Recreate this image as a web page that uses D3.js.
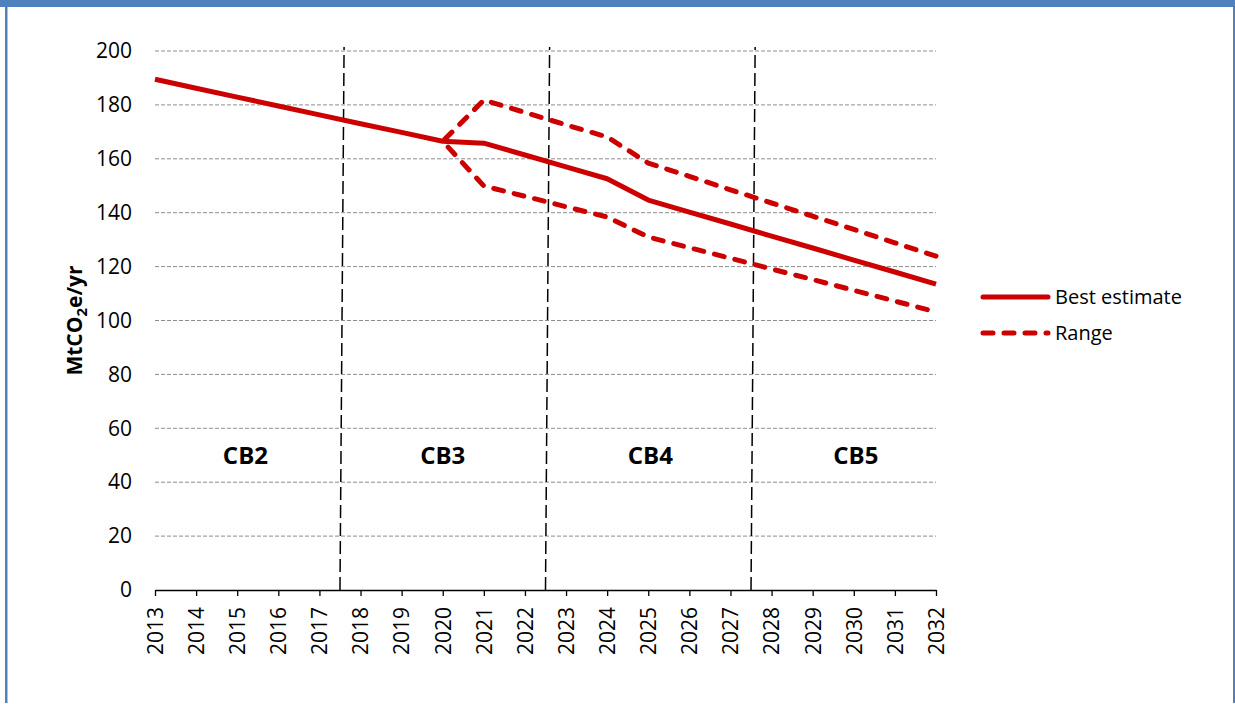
<!DOCTYPE html>
<html>
<head>
<meta charset="utf-8">
<script src="https://cdn.jsdelivr.net/npm/d3@7"></script>
<style>
  body { margin: 0; background: #fff; }
  svg { display: block; font-family: "Open Sans", sans-serif; }
</style>
</head>
<body>
<script>
// data
var years = d3.range(2013, 2033);
var bestYears = years;
var bestValues = [189.5, 186.2, 182.9, 179.6, 176.3, 173.0, 169.8, 166.5, 165.8, 161.4,
                  157.0, 152.6, 144.7, 140.2, 135.8, 131.3, 126.9, 122.4, 118.0, 113.5];
var rangeYears = d3.range(2020, 2033);
var upperValues = [166.5, 181.8, 177.2, 172.6, 168.1, 158.4, 153.5, 148.5, 143.6, 138.7, 133.8, 128.8, 123.9];
var lowerValues = [166.5, 149.9, 146.1, 142.2, 138.4, 131.0, 127.0, 123.1, 119.1, 115.2, 111.2, 107.2, 103.2];
var yTicks = [0, 20, 40, 60, 80, 100, 120, 140, 160, 180, 200];
var budgetBreaks = [2017.5, 2022.5, 2027.5];
var budgetLabels = ["CB2", "CB3", "CB4", "CB5"];
var budgetCentres = [2015.2, 2020.0, 2025.05, 2030.05];

var width = 1235, height = 704;
var red = "#cc0000";
var font = "'Open Sans', sans-serif";

var svg = d3.select("body").append("svg")
    .attr("width", width)
    .attr("height", height);

// frame
svg.append("rect").attr("x", 0).attr("y", 0).attr("width", width).attr("height", 7).attr("fill", "#4f81bd");
svg.append("rect").attr("x", 5).attr("y", 0).attr("width", 2.5).attr("height", 703).attr("fill", "#4f81bd");
svg.append("rect").attr("x", 1233).attr("y", 0).attr("width", 2).attr("height", 703).attr("fill", "#4f81bd");

var x = d3.scaleLinear().domain([2013, 2032]).range([155, 936]);
var y = d3.scaleLinear().domain([0, 200]).range([590, 51]);

// gridlines
svg.append("g").selectAll("line")
    .data(yTicks.filter(function(d){ return d > 0; }))
    .enter().append("line")
    .attr("x1", x(2013)).attr("x2", x(2032))
    .attr("y1", function(d){ return y(d); })
    .attr("y2", function(d){ return y(d); })
    .style("stroke", "#8c8c8c")
    .style("stroke-width", 1)
    .style("stroke-dasharray", "4,2");

// y axis labels (no axis line)
var yAxis = svg.append("g")
    .attr("transform", "translate(" + x(2013) + ",0)")
    .call(d3.axisLeft(y).tickValues(yTicks).tickSize(0).tickPadding(23));
yAxis.select(".domain").remove();
yAxis.selectAll("text").style("font-size", "21px").style("fill", "#000")
    .style("font-family", font);

// x axis
var xAxis = svg.append("g")
    .attr("transform", "translate(0," + y(0) + ")")
    .call(d3.axisBottom(x).tickValues(years).tickFormat(d3.format("d")).tickSizeInner(6).tickSizeOuter(0));
xAxis.select(".domain").style("stroke", "#000").style("stroke-width", 1.5);
xAxis.selectAll(".tick line").style("stroke", "#000").style("stroke-width", 1.3);
xAxis.selectAll("text")
    .style("font-size", "21px").style("fill", "#000")
    .style("font-family", font)
    .attr("transform", "rotate(-90)")
    .attr("text-anchor", "end")
    .attr("x", -17).attr("y", 0).attr("dy", "0.35em");

// carbon budget dividers
svg.append("g").selectAll("line")
    .data(budgetBreaks)
    .enter().append("line")
    .attr("x1", function(d){ return x(d); })
    .attr("y1", y(0))
    .attr("x2", function(d){ return x(d + 0.1); })
    .attr("y2", y(201.5))
    .style("stroke", "#000")
    .style("stroke-width", 1.5)
    .style("stroke-dasharray", "13,5");

svg.append("g").selectAll("text")
    .data(budgetLabels)
    .enter().append("text")
    .attr("x", function(d, i){ return x(budgetCentres[i]); })
    .attr("y", y(50))
    .attr("dy", "0.35em")
    .attr("text-anchor", "middle")
    .style("font-size", "24px")
    .style("font-weight", "bold")
    .text(function(d){ return d; });

// series
var line = d3.line()
    .x(function(d){ return x(d[0]); })
    .y(function(d){ return y(d[1]); });

var upperPts = rangeYears.map(function(yr, i){ return [yr, upperValues[i]]; }).reverse();
var lowerPts = rangeYears.map(function(yr, i){ return [yr, lowerValues[i]]; });
// range drawn as one path: upper (right to left) then lower
var rangePts = upperPts.concat(lowerPts.slice(1));

svg.append("path")
    .datum(rangePts)
    .attr("d", line)
    .attr("fill", "none")
    .style("stroke", red)
    .style("stroke-width", 5)
    .style("stroke-linecap", "round")
    .style("stroke-linejoin", "round")
    .style("stroke-dasharray", "10,11");

svg.append("path")
    .datum(bestYears.map(function(yr, i){ return [yr, bestValues[i]]; }))
    .attr("d", line)
    .attr("fill", "none")
    .style("stroke", red)
    .style("stroke-width", 5)
    .style("stroke-linejoin", "round");

// y title
svg.append("text")
    .attr("transform", "translate(82," + y(100) + ") rotate(-90)")
    .attr("text-anchor", "middle")
    .style("font-size", "21px")
    .style("font-weight", "bold")
    .html('MtCO<tspan dy="5" font-size="15px">2</tspan><tspan dy="-5">e/yr</tspan>');

// legend
var legend = [{name: "Best estimate", dash: null, ly: 297}, {name: "Range", dash: "10,11", ly: 333}];
var lg = svg.append("g").selectAll("g").data(legend).enter().append("g");
lg.append("line")
    .attr("x1", 983).attr("x2", 1048)
    .attr("y1", function(d){ return d.ly; }).attr("y2", function(d){ return d.ly; })
    .style("stroke", red).style("stroke-width", 5)
    .style("stroke-linecap", "round")
    .style("stroke-dasharray", function(d){ return d.dash; });
lg.append("text")
    .attr("x", 1055)
    .attr("y", function(d){ return d.ly; })
    .attr("dy", "0.35em")
    .style("font-size", "20px")
    .text(function(d){ return d.name; });
</script>
</body>
</html>
